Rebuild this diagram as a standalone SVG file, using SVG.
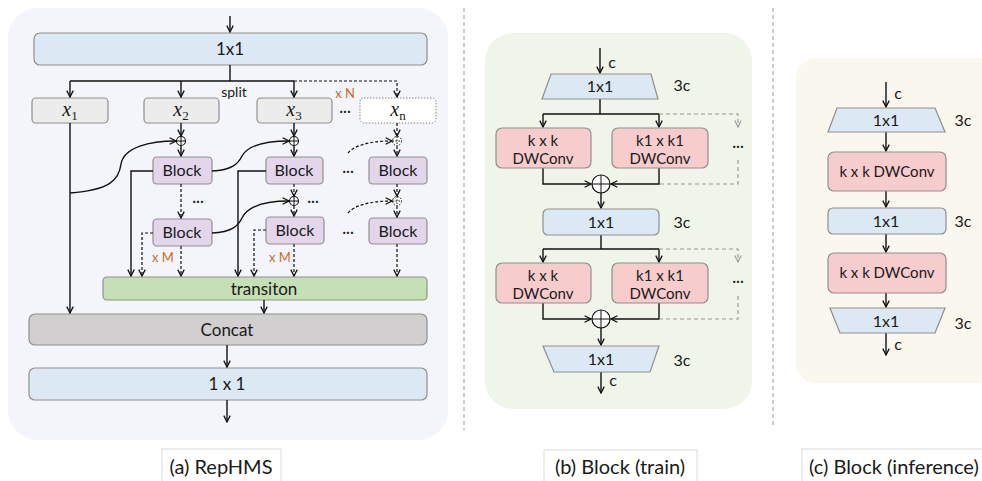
<svg xmlns="http://www.w3.org/2000/svg" width="982" height="481" viewBox="0 0 982 481">
<defs>
<marker id="ah" viewBox="0 0 10 10" refX="9" refY="5" markerWidth="8" markerHeight="8" orient="auto" markerUnits="userSpaceOnUse"><path d="M1,1 L9,5 L1,9" fill="none" stroke="#111" stroke-width="1.6"/></marker>
<marker id="ahg" viewBox="0 0 10 10" refX="9" refY="5" markerWidth="8" markerHeight="8" orient="auto" markerUnits="userSpaceOnUse"><path d="M1,1 L9,5 L1,9" fill="none" stroke="#999" stroke-width="1.4"/></marker>
<style>
text{font-family:Lato,"Liberation Sans",sans-serif;fill:#1a1a1a;text-anchor:middle}
.m{font-family:"Liberation Serif",serif;font-style:italic;font-size:20px}
.sub{font-size:13px;font-style:normal}
.or{fill:#d06a1e;font-size:13px}
.box{stroke:#8f8f8f;stroke-width:1.2}
.blue{fill:#dce8f4}
.gray{fill:#ececec}
.pur{fill:#e3d6ea}
.pink{fill:#f6cccc}
.ln{fill:none;stroke:#111;stroke-width:1.4}
.da{fill:none;stroke:#111;stroke-width:1.2;stroke-dasharray:3,2}
.dg{fill:none;stroke:#999;stroke-width:1.2;stroke-dasharray:4,3}
.cap{font-size:20px}
.capbox{fill:#fff;stroke:#dcdcdc;stroke-width:1}
.lbl{font-size:16px}
.dw{font-size:15px}
.big{font-size:17px}
</style>
</defs>

<!-- panels -->
<rect x="8" y="8" width="440" height="432" rx="30" fill="#f4f5fa"/>
<rect x="485" y="33" width="267" height="376" rx="28" fill="#eff5e9"/>
<rect x="796" y="58" width="210" height="325" rx="20" fill="#faf7ee"/>
<line x1="464" y1="8" x2="464" y2="430" stroke="#999" stroke-width="1" stroke-dasharray="4,3"/>
<line x1="773" y1="8" x2="773" y2="428" stroke="#999" stroke-width="1" stroke-dasharray="4,3"/>

<!-- ===== (a) RepHMS nodes ===== -->
<g id="a-top"><rect class="box blue" x="34" y="33" width="393" height="32" rx="6"/><text class="big" x="230" y="55">1x1</text></g>
<g id="a-x1"><rect class="box gray" x="32" y="98" width="76" height="25" rx="4"/><text class="m" x="70" y="116">x<tspan class="sub" dy="4">1</tspan></text></g>
<g id="a-x2"><rect class="box gray" x="144" y="98" width="75" height="25" rx="4"/><text class="m" x="181" y="116">x<tspan class="sub" dy="4">2</tspan></text></g>
<g id="a-x3"><rect class="box gray" x="257" y="98" width="75" height="25" rx="4"/><text class="m" x="294" y="116">x<tspan class="sub" dy="4">3</tspan></text></g>
<g id="a-xn"><rect x="360" y="98" width="76" height="25" rx="4" fill="#fff" stroke="#888" stroke-width="1" stroke-dasharray="1.5,1.5"/><text class="m" x="398" y="116">x<tspan class="sub" dy="4" font-style="italic">n</tspan></text></g>
<g id="a-b21"><rect class="box pur" x="153" y="157" width="59" height="27" rx="4"/><text class="lbl" x="182" y="176">Block</text></g>
<g id="a-b31"><rect class="box pur" x="266" y="157" width="57" height="27" rx="4"/><text class="lbl" x="294" y="176">Block</text></g>
<g id="a-bn1"><rect class="box pur" x="369" y="157" width="58" height="27" rx="4"/><text class="lbl" x="398" y="176">Block</text></g>
<g id="a-b22"><rect class="box pur" x="153" y="219" width="59" height="27" rx="4"/><text class="lbl" x="182" y="238">Block</text></g>
<g id="a-b32"><rect class="box pur" x="266" y="217" width="58" height="27" rx="4"/><text class="lbl" x="295" y="236">Block</text></g>
<g id="a-bn2"><rect class="box pur" x="369" y="218" width="58" height="26" rx="4"/><text class="lbl" x="398" y="237">Block</text></g>
<g id="a-trans"><rect class="box" fill="#c6e0b5" x="103" y="277" width="324" height="23" rx="4"/><text class="big" x="264" y="295">transiton</text></g>
<g id="a-concat"><rect class="box" fill="#d1cfcf" x="29" y="314" width="398" height="31" rx="6"/><text class="big" x="227" y="336">Concat</text></g>
<g id="a-out"><rect class="box blue" x="29" y="368" width="398" height="32" rx="6"/><text class="big" x="227" y="390">1 x 1</text></g>

<!-- sum nodes (a) -->
<g id="a-sum21"><circle cx="181" cy="141" r="4.5" fill="#fff" stroke="#111" stroke-width="1.1"/><path d="M176.5,141H185.5M181,136.5V145.5" stroke="#111" stroke-width="1"/></g>
<g id="a-sum31"><circle cx="294" cy="141" r="4.5" fill="#fff" stroke="#111" stroke-width="1.1"/><path d="M289.5,141H298.5M294,136.5V145.5" stroke="#111" stroke-width="1"/></g>
<g id="a-sum32"><circle cx="294" cy="201" r="4.5" fill="#fff" stroke="#111" stroke-width="1.1"/><path d="M289.5,201H298.5M294,196.5V205.5" stroke="#111" stroke-width="1"/></g>
<g id="a-sumn1"><circle cx="397" cy="141" r="4.5" fill="#fff" stroke="#111" stroke-width="1" stroke-dasharray="1.5,1.5"/><path d="M392.5,141H401.5M397,136.5V145.5" stroke="#111" stroke-width="1" stroke-dasharray="1.5,1.5"/></g>
<g id="a-sumn2"><circle cx="397" cy="201" r="4.5" fill="#fff" stroke="#111" stroke-width="1" stroke-dasharray="1.5,1.5"/><path d="M392.5,201H401.5M397,196.5V205.5" stroke="#111" stroke-width="1" stroke-dasharray="1.5,1.5"/></g>

<!-- labels (a) -->
<text x="234" y="97" font-size="14">split</text>
<text class="or" x="345" y="98" font-size="11">x N</text>
<text x="345" y="116" font-size="15">···</text>
<text x="198" y="206" font-size="15">···</text>
<text x="313" y="206" font-size="15">···</text>
<text x="348" y="176" font-size="15">···</text>
<text x="348" y="237" font-size="15">···</text>
<text class="or" x="163" y="262">x M</text>
<text class="or" x="280" y="262">x M</text>

<!-- ===== connectors ===== -->
<g id="connectors">
<!-- (a) -->
<line class="ln" x1="230" y1="16" x2="230" y2="32" marker-end="url(#ah)"/>
<path class="ln" d="M230,65V81M70,81H294"/>
<path class="ln" d="M70,81V97" marker-end="url(#ah)"/>
<path class="ln" d="M181,81V97" marker-end="url(#ah)"/>
<path class="ln" d="M294,81V97" marker-end="url(#ah)"/>
<path class="da" d="M294,81H397V97" marker-end="url(#ah)"/>
<path class="ln" d="M181,123V136" marker-end="url(#ah)"/>
<path class="ln" d="M181,146V156" marker-end="url(#ah)"/>
<path class="ln" d="M294,123V136" marker-end="url(#ah)"/>
<path class="ln" d="M294,146V156" marker-end="url(#ah)"/>
<path class="da" d="M397,123V136" marker-end="url(#ah)"/>
<path class="da" d="M397,146V156" marker-end="url(#ah)"/>
<path class="da" d="M181,184V218" marker-end="url(#ah)"/>
<path class="da" d="M294,184V196" marker-end="url(#ah)"/>
<path class="da" d="M294,206V216" marker-end="url(#ah)"/>
<path class="da" d="M397,184V196" marker-end="url(#ah)"/>
<path class="da" d="M397,206V217" marker-end="url(#ah)"/>
<path class="ln" d="M70,193C110,190 119,180 121,164C124,147 150,141 176,141" marker-end="url(#ah)"/>
<path class="ln" d="M212,171C232,170 238,164 242,156C248,145 264,141 289,141" marker-end="url(#ah)"/>
<path class="ln" d="M212,233C232,232 238,226 242,218C248,206 264,201 289,201" marker-end="url(#ah)"/>
<path class="da" d="M348,153C354,146 368,141 392,141" marker-end="url(#ah)"/>
<path class="da" d="M348,213C354,206 368,201 392,201" marker-end="url(#ah)"/>
<path class="ln" d="M153,171H131V276" marker-end="url(#ah)"/>
<path class="ln" d="M266,171H238V276" marker-end="url(#ah)"/>
<path class="da" d="M153,233H142V276" marker-end="url(#ah)"/>
<path class="da" d="M266,230H254V276" marker-end="url(#ah)"/>
<path class="da" d="M181,246V276" marker-end="url(#ah)"/>
<path class="da" d="M294,244V276" marker-end="url(#ah)"/>
<path class="da" d="M397,244V276" marker-end="url(#ah)"/>
<path class="ln" d="M70,123V313" marker-end="url(#ah)"/>
<path class="ln" d="M264,300V313" marker-end="url(#ah)"/>
<path class="ln" d="M227,345V367" marker-end="url(#ah)"/>
<path class="ln" d="M227,400V422" marker-end="url(#ah)"/>
<!-- (b) -->
<path class="ln" d="M600,48V73" marker-end="url(#ah)"/>
<path class="ln" d="M600,99V114M543,114H659"/>
<path class="ln" d="M543,114V127" marker-end="url(#ah)"/>
<path class="ln" d="M659,114V127" marker-end="url(#ah)"/>
<path class="dg" d="M659,114H738V127" marker-end="url(#ahg)"/>
<path class="ln" d="M543,168V184H591" marker-end="url(#ah)"/>
<path class="ln" d="M659,168V184H611" marker-end="url(#ah)"/>
<path class="dg" d="M738,160V184H659"/>
<path class="ln" d="M601,193V208" marker-end="url(#ah)"/>
<path class="ln" d="M601,235V249M543,249H659"/>
<path class="ln" d="M543,249V262" marker-end="url(#ah)"/>
<path class="ln" d="M659,249V262" marker-end="url(#ah)"/>
<path class="dg" d="M659,249H738V262" marker-end="url(#ahg)"/>
<path class="ln" d="M543,303V319H591" marker-end="url(#ah)"/>
<path class="ln" d="M659,303V319H611" marker-end="url(#ah)"/>
<path class="dg" d="M738,296V319H659"/>
<path class="ln" d="M601,328V345" marker-end="url(#ah)"/>
<path class="ln" d="M601,372V393" marker-end="url(#ah)"/>
<!-- (c) -->
<path class="ln" d="M886,82V107" marker-end="url(#ah)"/>
<path class="ln" d="M886,132V151" marker-end="url(#ah)"/>
<path class="ln" d="M886,191V207" marker-end="url(#ah)"/>
<path class="ln" d="M886,234V252" marker-end="url(#ah)"/>
<path class="ln" d="M886,293V307" marker-end="url(#ah)"/>
<path class="ln" d="M886,333V355" marker-end="url(#ah)"/>
</g>

<!-- ===== (b) Block (train) ===== -->
<g id="b-in"><polygon class="box blue" points="551,74 651,74 658,99 542,99"/><text class="lbl" x="600" y="92">1x1</text></g>
<g id="b-dw1"><rect class="box pink" x="496" y="128" width="95" height="40" rx="6"/><text class="dw" x="543" y="146">k x k</text><text class="dw" x="543" y="164">DWConv</text></g>
<g id="b-dw2"><rect class="box pink" x="612" y="128" width="96" height="40" rx="6"/><text class="dw" x="660" y="146">k1 x k1</text><text class="dw" x="660" y="164">DWConv</text></g>
<g id="b-sum1"><circle cx="601" cy="184" r="9" fill="#fff" stroke="#111" stroke-width="1.2"/><path d="M592,184H610M601,175V193" stroke="#111" stroke-width="1"/></g>
<g id="b-mid"><rect class="box blue" x="543" y="209" width="116" height="26" rx="5"/><text class="lbl" x="601" y="228">1x1</text></g>
<g id="b-dw3"><rect class="box pink" x="496" y="263" width="95" height="40" rx="6"/><text class="dw" x="543" y="281">k x k</text><text class="dw" x="543" y="299">DWConv</text></g>
<g id="b-dw4"><rect class="box pink" x="612" y="263" width="96" height="40" rx="6"/><text class="dw" x="660" y="281">k1 x k1</text><text class="dw" x="660" y="299">DWConv</text></g>
<g id="b-sum2"><circle cx="601" cy="319" r="9" fill="#fff" stroke="#111" stroke-width="1.2"/><path d="M592,319H610M601,310V328" stroke="#111" stroke-width="1"/></g>
<g id="b-out"><polygon class="box blue" points="543,346 659,346 650,372 554,372"/><text class="lbl" x="601" y="365">1x1</text></g>
<text class="lbl" x="612" y="68">c</text>
<text class="lbl" x="613" y="386">c</text>
<text class="lbl" x="682" y="91">3c</text>
<text class="lbl" x="682" y="228">3c</text>
<text class="lbl" x="682" y="366">3c</text>
<text x="738" y="151" font-size="15">···</text>
<text x="738" y="286" font-size="15">···</text>

<!-- ===== (c) Block (inference) ===== -->
<g id="c-in"><polygon class="box blue" points="837,108 935,108 945,132 828,132"/><text class="lbl" x="886" y="126">1x1</text></g>
<g id="c-dw1"><rect class="box pink" x="828" y="152" width="118" height="39" rx="6"/><text class="dw" x="887" y="177">k x k DWConv</text></g>
<g id="c-mid"><rect class="box blue" x="828" y="208" width="118" height="26" rx="5"/><text class="lbl" x="886" y="227">1x1</text></g>
<g id="c-dw2"><rect class="box pink" x="828" y="253" width="118" height="40" rx="6"/><text class="dw" x="887" y="278">k x k DWConv</text></g>
<g id="c-out"><polygon class="box blue" points="830,308 945,308 935,333 840,333"/><text class="lbl" x="886" y="327">1x1</text></g>
<text class="lbl" x="898" y="99">c</text>
<text class="lbl" x="898" y="350">c</text>
<text class="lbl" x="963" y="126">3c</text>
<text class="lbl" x="963" y="227">3c</text>
<text class="lbl" x="963" y="329">3c</text>

<!-- captions -->
<rect class="capbox" x="162" y="449" width="119" height="40"/>
<text class="cap" x="221" y="474">(a) RepHMS</text>
<rect class="capbox" x="544" y="450" width="153" height="40"/>
<text class="cap" x="620" y="474">(b) Block (train)</text>
<rect class="capbox" x="802" y="449" width="190" height="40"/>
<text class="cap" x="809" y="474" style="text-anchor:start">(c) Block (inference)</text>
</svg>
